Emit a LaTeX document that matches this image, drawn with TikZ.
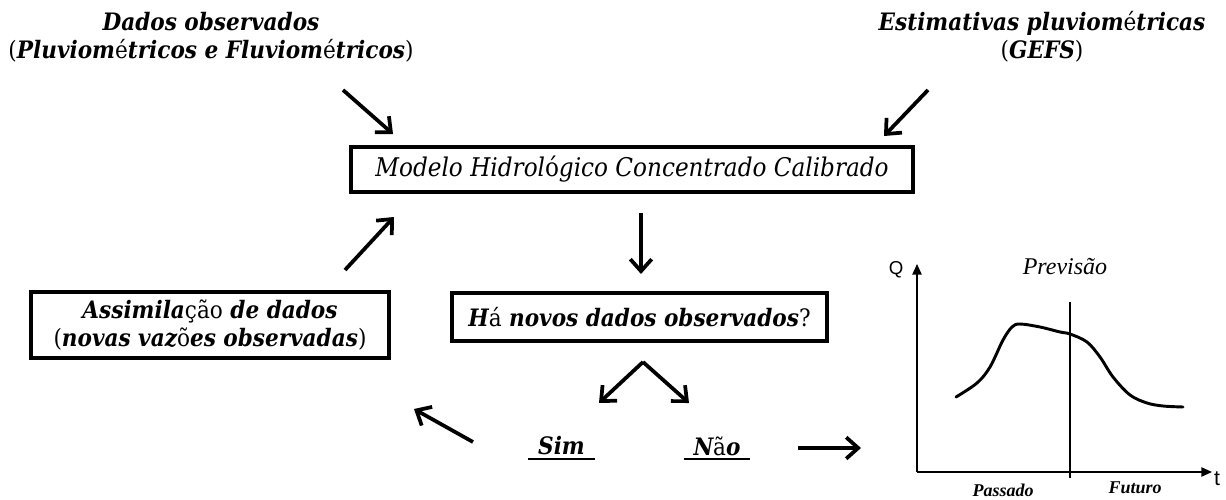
\documentclass[tikz,border=0pt]{standalone}
\usepackage{fontspec}
\setmainfont{DejaVu Serif Condensed}
\newfontfamily\libserif{Liberation Serif}
\newfontfamily\libsans{Liberation Sans}
\usetikzlibrary{arrows.meta}
\newcommand{\up}[1]{{\normalfont #1}}
\begin{document}
\begin{tikzpicture}[x=0.75pt,y=-0.75pt,
  bi/.style={font=\fontsize{18}{21}\selectfont\bfseries\itshape, inner sep=0pt, align=center},
  boxed/.style={draw, line width=2.6pt, inner sep=0pt, align=center},
  arr/.style={line width=2.8pt, -{Straight Barb[length=9pt,width=16pt,line width=2.8pt]}},
  thinline/.style={line width=1.1pt},
  uline/.style={line width=1.5pt},
  ax/.style={line width=1.1pt, -{Triangle[length=8pt,width=7pt]}},
  curve/.style={line width=2.2pt, line cap=round, line join=round}]
\useasboundingbox (0,0) rectangle (1226,499);
\fill[white] (0,0) rectangle (1226,499);

% texts on top
\node[bi] (obs) at (211,37) {Dados observados\\\up{(}Pluviom\up{é}tricos e Fluviom\up{é}tricos\up{)}};
\node[bi] (gefs) at (1042,37) {Estimativas pluviom\up{é}tricas\\\up{(}GEFS\up{)}};

% boxes
\node[boxed, minimum width=421.5pt, minimum height=33.75pt, font=\fontsize{19.3}{20}\selectfont\itshape] (model) at (632,169.5) {Modelo Hidrol\up{ó}gico Concentrado Calibrado};
\node[boxed, bi, minimum width=281pt, minimum height=36pt] (ha) at (639.5,317) {H\up{á} novos dados observados\up{?}};
\node[boxed, bi, minimum width=268.5pt, minimum height=49.5pt] (assim) at (210,325) {Assimila\up{ção} de dados\\\up{(}novas vaz\up{õ}es observadas\up{)}};

% answers
\node[bi, minimum width=50pt, minimum height=19.5pt] (sim) at (561.5,446) {Sim};
\draw[uline] (sim.south west) -- (sim.south east);
\node[bi, minimum width=49.5pt, minimum height=19.5pt] (nao) at (717,446) {N\up{ã}o};
\draw[uline] (nao.south west) -- (nao.south east);

% arrows
\coordinate (a1s) at (343,90);  \coordinate (a1e) at (393,134);
\coordinate (a2s) at (928,90);  \coordinate (a2e) at (884,136);
\coordinate (a3s) at (641,213); \coordinate (a3e) at (641,274);
\coordinate (a4s) at (345,270); \coordinate (a4e) at (394,217);
\coordinate (vap) at (643,362); \coordinate (vl) at (599,403); \coordinate (vr) at (689,403);
\coordinate (a5s) at (473,442); \coordinate (a5e) at (414,409);
\coordinate (a6s) at (798,448); \coordinate (a6e) at (861,448);
\draw[arr] (a1s) -- (a1e);
\draw[arr] (a2s) -- (a2e);
\draw[arr] (a3s) -- (a3e);
\draw[arr] (a4s) -- (a4e);
\draw[arr] (vap) -- (vl);
\draw[arr] (vap) -- (vr);
\draw[arr] (a5s) -- (a5e);
\draw[arr] (a6s) -- (a6e);

% chart
\coordinate (O) at (917,472);
\coordinate (Qtop) at (917,264);
\coordinate (tend) at (1212,472);
\draw[ax] (O) -- (Qtop);
\draw[ax] (O) -- (tend);
\node[font=\libsans\fontsize{14}{16}\selectfont, inner sep=0pt] (Q) at (896,270) {Q};
\node[font=\libsans\fontsize{16}{18}\selectfont, inner sep=0pt] (t) at (1217,479) {t};
\coordinate (v1) at (1070,302); \coordinate (v2) at (1070,478);
\draw[thinline] (v1) -- (v2);
\draw[curve] plot[smooth, tension=0.55] coordinates {(956,397) (977,383) (990,367) (1003,340) (1012,327) (1020,324) (1040,327) (1060,332) (1070,334) (1087,342) (1100,357) (1113,377) (1130,395) (1147,403) (1163,406) (1183,407)};
\node[font=\libserif\fontsize{18}{20}\selectfont\itshape, inner sep=0pt] (prev) at (1065,267) {Previsão};
\node[font=\libserif\fontsize{13.5}{15}\selectfont\bfseries\itshape, inner sep=0pt] (pas) at (1003,490) {Passado};
\node[font=\libserif\fontsize{13.5}{15}\selectfont\bfseries\itshape, inner sep=0pt] (fut) at (1135,488) {Futuro};
\end{tikzpicture}
\end{document}
